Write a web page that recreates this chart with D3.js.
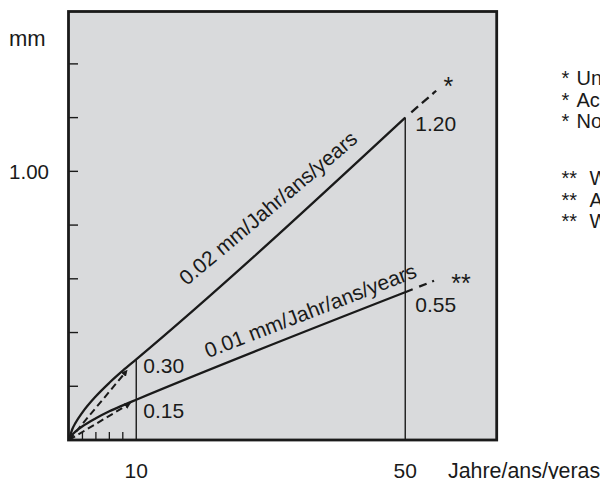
<!DOCTYPE html>
<html>
<head>
<meta charset="utf-8">
<script src="https://cdn.jsdelivr.net/npm/d3@7"></script>
<style>
  body { margin: 0; background: #fff; }
  svg { display: block; font-family: 'Liberation Sans', Arial, sans-serif; }
</style>
</head>
<body>
<svg id="chart" width="600" height="479"></svg>
<script>
// values (years, mm)
var years = [0, 0.5, 1, 2, 4, 6, 8, 10, 50]
var rateHigh = [0, 0.041, 0.065, 0.103, 0.163, 0.213, 0.258, 0.30, 1.20]
var rateLow = [0, 0.020, 0.032, 0.051, 0.081, 0.107, 0.129, 0.15, 0.55]

var extYears = [50, 54.6]
var extHigh = [1.20, 1.30]
var extLow = [0.55, 0.596]

var chordHighYears = [0, 8.4]
var chordHigh = [0, 0.252]
var chordLowYears = [0, 8.8]
var chordLow = [0, 0.132]

var yTicks = [0.2, 0.4, 0.6, 0.8, 1.0, 1.2, 1.4]
var yLabels = [1.0]
var xMinorTicks = [2, 4, 6, 8]
var xLabels = [10, 50]

var legendMarks = ['*', '*', '*', '**', '**', '**']
var legendWords = [
  'Unlegierter Stahl', 'Acier non allié', 'Non-alloy steel',
  'Wetterfester Stahl', 'Acier autopatinable', 'Weathering steel'
]

var svg = d3.select('#chart')
var ink = '#1a1a1a'

var x = d3.scaleLinear().domain([0, 63.6]).range([69, 496.7])
var y = d3.scaleLinear().domain([0, 1.595]).range([440, 11.5])

// plot frame
svg.append('rect')
  .attr('x', x(0) - 0.5)
  .attr('y', y(1.595))
  .attr('width', x(63.6) - x(0) + 0.5)
  .attr('height', y(0) - y(1.595))
  .attr('fill', '#d9dadc')
  .attr('stroke', ink)
  .attr('stroke-width', 2.8)

// y ticks
svg.append('g').selectAll('line')
  .data(yTicks)
  .enter().append('line')
  .attr('x1', x(0)).attr('x2', x(0) + 9)
  .attr('y1', function(d) { return y(d) }).attr('y2', function(d) { return y(d) })
  .attr('stroke', ink).attr('stroke-width', 1.4)

// x minor ticks
svg.append('g').selectAll('line')
  .data(xMinorTicks)
  .enter().append('line')
  .attr('x1', function(d) { return x(d) }).attr('x2', function(d) { return x(d) })
  .attr('y1', y(0)).attr('y2', y(0) - 8)
  .attr('stroke', ink).attr('stroke-width', 1.3)

// vertical guides at 10 and 50 years
var guides = [[10, rateHigh[7]], [50, rateHigh[8]]]
svg.append('g').selectAll('line')
  .data(guides)
  .enter().append('line')
  .attr('x1', function(d) { return x(d[0]) }).attr('x2', function(d) { return x(d[0]) })
  .attr('y1', y(0)).attr('y2', function(d) { return y(d[1]) })
  .attr('stroke', ink).attr('stroke-width', 1.4)

// arrow marker for the dashed chords
svg.append('defs').append('marker')
  .attr('id', 'arrow')
  .attr('viewBox', '0 0 10 10')
  .attr('refX', 5).attr('refY', 5)
  .attr('markerWidth', 3.2).attr('markerHeight', 3.2)
  .attr('orient', 'auto')
  .append('path')
  .attr('d', 'M0,0L10,5L0,10z')
  .attr('fill', ink)

var line = d3.line()
  .x(function(d) { return x(d[0]) })
  .y(function(d) { return y(d[1]) })

var curve = d3.line()
  .x(function(d) { return x(d[0]) })
  .y(function(d) { return y(d[1]) })
  .curve(d3.curveMonotoneX)

function pairs(xs, ys) {
  return xs.map(function(v, i) { return [v, ys[i]] })
}

// dashed straight chords from the origin
svg.append('path')
  .attr('d', line(pairs(chordHighYears, chordHigh)))
  .attr('fill', 'none').attr('stroke', ink).attr('stroke-width', 2)
  .attr('stroke-dasharray', '7,4')
  .attr('marker-end', 'url(#arrow)')
svg.append('path')
  .attr('d', line(pairs(chordLowYears, chordLow)))
  .attr('fill', 'none').attr('stroke', ink).attr('stroke-width', 2)
  .attr('stroke-dasharray', '7,4')
  .attr('marker-end', 'url(#arrow)')

// main curves
svg.append('path')
  .attr('d', curve(pairs(years, rateHigh)))
  .attr('fill', 'none').attr('stroke', ink).attr('stroke-width', 2.3)
svg.append('path')
  .attr('d', curve(pairs(years, rateLow)))
  .attr('fill', 'none').attr('stroke', ink).attr('stroke-width', 2.3)

// dashed extensions
svg.append('path')
  .attr('d', line(pairs(extYears, extHigh)))
  .attr('fill', 'none').attr('stroke', ink).attr('stroke-width', 2.3)
  .attr('stroke-dasharray', '0,8,9,5,9,5,2')
svg.append('path')
  .attr('d', line(pairs(extYears, extLow)))
  .attr('fill', 'none').attr('stroke', ink).attr('stroke-width', 2.3)
  .attr('stroke-dasharray', '8,7,8,6,2')

var fs = 21

// value labels at 10 and 50 years
var valueLabels = [
  [10, rateHigh[7], 7, 14], [10, rateLow[7], 7, 18.5],
  [50, rateHigh[8], 10, 13], [50, rateLow[8], 10, 19.5]
]
svg.append('g').selectAll('text')
  .data(valueLabels)
  .enter().append('text')
  .attr('x', function(d) { return x(d[0]) + d[2] })
  .attr('y', function(d) { return y(d[1]) + d[3] })
  .attr('font-size', fs).attr('fill', ink)
  .text(function(d) { return d3.format('.2f')(d[1]) })

// rate labels along the lines
function slopeLabel(i0, i1, xs, ys, atYear, dy, tilt, txt) {
  var x0 = x(xs[i0]), y0 = y(ys[i0]), x1 = x(xs[i1]), y1 = y(ys[i1])
  var ang = Math.atan2(y0 - y1, x1 - x0) * 180 / Math.PI - tilt
  var px = x(atYear)
  var py = y0 + (px - x0) * (y1 - y0) / (x1 - x0) + dy
  svg.append('text')
    .attr('transform', 'translate(' + px + ',' + py + ') rotate(' + (-ang) + ')')
    .attr('text-anchor', 'middle')
    .attr('font-size', fs).attr('fill', ink)
    .text(txt)
}
slopeLabel(7, 8, years, rateHigh, 30.3, -23, 1.8, '0.02 mm/Jahr/ans/years')
slopeLabel(7, 8, years, rateLow, 36.3, -11.6, 0.6, '0.01 mm/Jahr/ans/years')

// footnote markers
svg.append('text')
  .attr('x', x(55.7)).attr('y', y(1.285))
  .attr('font-size', 25).attr('fill', ink)
  .text('*')
svg.append('text')
  .attr('x', x(56.85)).attr('y', y(0.55))
  .attr('font-size', 25).attr('fill', ink)
  .text('**')

// axis labels
svg.append('text')
  .attr('x', 9).attr('y', 45.5)
  .attr('font-size', 22).attr('fill', ink)
  .text('mm')

svg.append('g').selectAll('text')
  .data(yLabels)
  .enter().append('text')
  .attr('x', 49).attr('y', function(d) { return y(d) + 7.5 })
  .attr('text-anchor', 'end')
  .attr('font-size', 20.5).attr('fill', ink)
  .text(function(d) { return d3.format('.2f')(d) })

svg.append('g').selectAll('text')
  .data(xLabels)
  .enter().append('text')
  .attr('x', function(d) { return x(d) })
  .attr('y', 478)
  .attr('text-anchor', 'middle')
  .attr('font-size', fs).attr('fill', ink)
  .text(function(d) { return d })

svg.append('text')
  .attr('x', 448).attr('y', 478)
  .attr('font-size', 21.4).attr('fill', ink)
  .text('Jahre/ans/yeras')

// legend (runs off the right edge)
var legend = svg.append('g').selectAll('text')
  .data(legendWords)
  .enter().append('text')
  .attr('y', function(d, i) { return (i < 3 ? 85 : 185) + (i % 3) * 21.5 })
  .attr('font-size', 20).attr('fill', ink)
legend.append('tspan')
  .attr('x', 561.5)
  .text(function(d, i) { return legendMarks[i] })
legend.append('tspan')
  .attr('x', function(d, i) { return legendMarks[i].length > 1 ? 589.5 : 576.5 })
  .text(function(d) { return d })
</script>
</body>
</html>
